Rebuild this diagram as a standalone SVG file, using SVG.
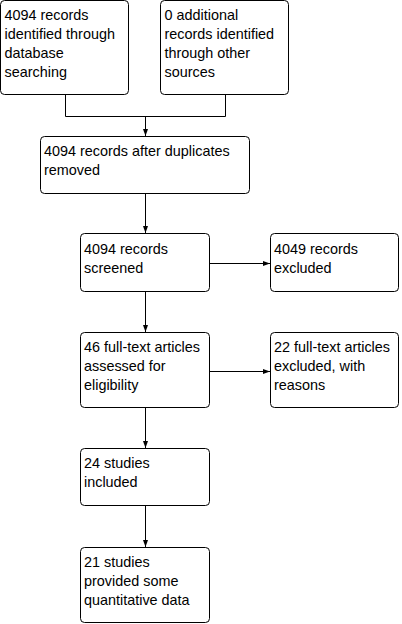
<svg xmlns="http://www.w3.org/2000/svg" width="402" height="624" viewBox="0 0 402 624">
<style>
  .box { fill: #ffffff; stroke: #000000; stroke-width: 1; }
  .t { font-family: "Liberation Sans", Arial, sans-serif; font-size: 14.4px; fill: #000000; }
  .c { fill: none; stroke: #000000; stroke-width: 1; }
</style>
<defs>
  <marker id="arr" markerUnits="userSpaceOnUse" markerWidth="8" markerHeight="8" refX="7" refY="4" orient="auto">
    <path d="M0,1.5 L7,4 L0,6.5 Z" fill="#000000"/>
  </marker>
</defs>
<rect width="402" height="624" fill="#ffffff"/>
<g id="connectors">
  <path class="c" d="M65.5,94.5 V116.5 H225.5 V94.5"/>
  <path class="c" d="M145.5,116.5 V136" marker-end="url(#arr)"/>
  <path class="c" d="M145.5,193.5 V233" marker-end="url(#arr)"/>
  <path class="c" d="M209.5,263.5 H270" marker-end="url(#arr)"/>
  <path class="c" d="M145.5,291.5 V332" marker-end="url(#arr)"/>
  <path class="c" d="M209.5,371.5 H270" marker-end="url(#arr)"/>
  <path class="c" d="M145.5,407.5 V448" marker-end="url(#arr)"/>
  <path class="c" d="M145.5,505.5 V547" marker-end="url(#arr)"/>
</g>
<g id="n1">
  <rect class="box" x="0.5" y="0.5" width="128" height="94" rx="4"/>
  <text class="t" x="4.5" y="20">4094 records</text>
  <text class="t" x="4.5" y="39">identified through</text>
  <text class="t" x="4.5" y="58">database</text>
  <text class="t" x="4.5" y="77">searching</text>
</g>
<g id="n2">
  <rect class="box" x="160.5" y="0.5" width="128" height="94" rx="4"/>
  <text class="t" x="164.5" y="20">0 additional</text>
  <text class="t" x="164.5" y="39">records identified</text>
  <text class="t" x="164.5" y="58">through other</text>
  <text class="t" x="164.5" y="77">sources</text>
</g>
<g id="n3">
  <rect class="box" x="40.5" y="136.5" width="209" height="57" rx="4"/>
  <text class="t" x="44" y="156">4094 records after duplicates</text>
  <text class="t" x="44" y="175">removed</text>
</g>
<g id="n4">
  <rect class="box" x="80.5" y="233.5" width="129" height="58" rx="4"/>
  <text class="t" x="84" y="254">4094 records</text>
  <text class="t" x="84" y="273">screened</text>
</g>
<g id="n5">
  <rect class="box" x="270.5" y="233.5" width="128" height="58" rx="4"/>
  <text class="t" x="274" y="254">4049 records</text>
  <text class="t" x="274" y="273">excluded</text>
</g>
<g id="n6">
  <rect class="box" x="80.5" y="332.5" width="129" height="75" rx="4"/>
  <text class="t" x="84" y="352">46 full-text articles</text>
  <text class="t" x="84" y="371">assessed for</text>
  <text class="t" x="84" y="390">eligibility</text>
</g>
<g id="n7">
  <rect class="box" x="270.5" y="332.5" width="128" height="75" rx="4"/>
  <text class="t" x="274" y="352">22 full-text articles</text>
  <text class="t" x="274" y="371">excluded, with</text>
  <text class="t" x="274" y="390">reasons</text>
</g>
<g id="n8">
  <rect class="box" x="80.5" y="448.5" width="129" height="57" rx="4"/>
  <text class="t" x="84" y="468">24 studies</text>
  <text class="t" x="84" y="487">included</text>
</g>
<g id="n9">
  <rect class="box" x="80.5" y="547.5" width="129" height="75" rx="4"/>
  <text class="t" x="84" y="567">21 studies</text>
  <text class="t" x="84" y="586">provided some</text>
  <text class="t" x="84" y="605">quantitative data</text>
</g>
</svg>
